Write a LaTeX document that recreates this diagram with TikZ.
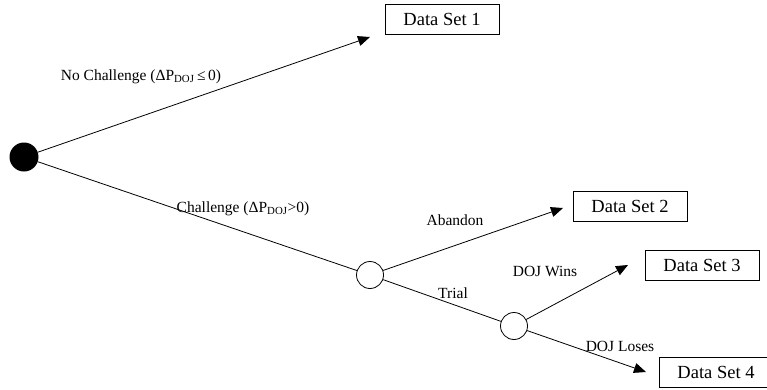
\documentclass[tikz,border=0pt]{standalone}
\usepackage{fontspec}
\setmainfont{Liberation Serif}
\usetikzlibrary{arrows.meta}
\begin{document}
\begin{tikzpicture}[x=1pt,y=-1pt,
  dsbox/.style={draw,line width=0.8pt,minimum width=114pt,minimum height=30pt,inner sep=0pt,font=\fontsize{18.5}{20}\selectfont},
  lbl/.style={font=\fontsize{15.5}{17}\selectfont,inner sep=0pt},
  arr/.style={line width=0.8pt,-{Triangle[length=12pt,width=10pt]}},
  ln/.style={line width=0.8pt},
  chance/.style={circle,draw,line width=0.8pt,fill=white,minimum size=27pt,inner sep=0pt}]
\useasboundingbox (0,0) rectangle (767,389);
\node[circle,fill=black,minimum size=29pt,inner sep=0pt] (root) at (24,157) {};
\node[chance] (c1) at (370,275) {};
\node[chance] (c2) at (514,326) {};
\node[dsbox] (d1) at (442,19) {Data Set 1};
\node[dsbox] (d2) at (630,206) {Data Set 2};
\node[dsbox] (d3) at (702,265) {Data Set 3};
\node[dsbox] (d4) at (716,372) {Data Set 4};
\coordinate (t1) at (370,37);
\coordinate (t2) at (563,208);
\coordinate (t3) at (628,265);
\coordinate (t4) at (646,372);
\draw[arr] (root) -- (t1);
\draw[ln] (root) -- (c1);
\draw[arr] (c1) -- (t2);
\draw[ln] (c1) -- (c2);
\draw[arr] (c2) -- (t3);
\draw[arr] (c2) -- (t4);
\node[lbl] (l1) at (141,77) {No Challenge (ΔP\textsubscript{DOJ}\,≤\,0)};
\node[lbl] (l2) at (243,209) {Challenge (ΔP\textsubscript{DOJ}>0)};
\node[lbl] (l3) at (455,220) {Abandon};
\node[lbl] (l4) at (453,293) {Trial};
\node[lbl] (l5) at (545,271) {DOJ Wins};
\node[lbl] (l6) at (620,346) {DOJ Loses};
\end{tikzpicture}
\end{document}
